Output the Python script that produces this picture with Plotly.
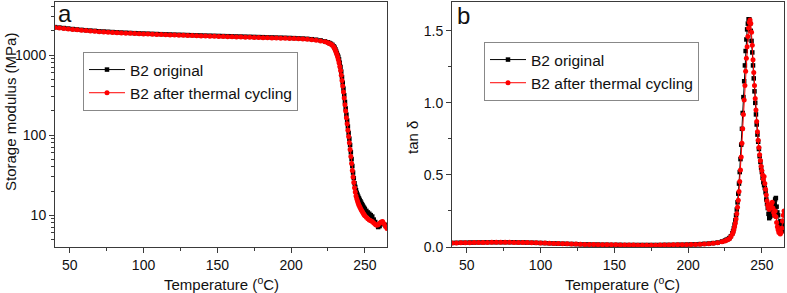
import plotly.graph_objects as go

# ---------------- data ----------------
T_flat = [40, 43, 46, 49, 52, 55, 58, 61, 64, 67,
          70, 73, 76, 79, 82, 85, 88, 91, 94, 97,
          100, 103, 106, 109, 112, 115, 118, 121, 124, 127,
          130, 133, 136, 139, 142, 145, 148, 151, 154, 157,
          160, 163, 166, 169, 172, 175, 178, 181, 184, 187,
          190, 193, 196, 199, 202, 205, 208, 211, 214, 217,
          220, 223]

T_a_tail = [225, 226, 227, 228,
            229, 229.5, 230, 230.5, 231, 231.5, 232, 232.5, 233, 233.5,
            234, 234.5, 235, 235.5, 236, 236.5, 237, 237.5, 238, 238.5,
            239, 239.5, 240, 240.5, 241, 241.5, 242, 242.5, 243, 243.5,
            244, 244.5, 245, 245.5, 246, 246.5, 247, 247.5, 248, 248.5,
            249, 249.5, 250,
            251, 252, 253, 254, 255, 256, 257, 258, 259, 260,
            261, 262, 263, 264, 265]

T_b_tail = [225, 226, 227, 228, 229, 230,
            230.5, 231, 231.5, 232, 232.5, 233, 233.5, 234, 234.5, 235,
            235.5, 236, 236.5, 237, 237.5, 238, 238.5, 239, 239.5, 240,
            240.5, 241, 241.5, 242, 242.5, 243, 243.5, 244, 244.5, 245,
            245.5, 246, 246.5, 247, 247.5, 248, 248.5, 249, 249.5, 250,
            250.5, 251, 251.5, 252, 252.5, 253, 253.5, 254, 254.5, 255,
            255.5, 256, 256.5, 257, 257.5, 258, 258.5, 259, 259.5, 260,
            260.5, 261, 261.5, 262, 262.5, 263, 263.5, 264, 264.5, 265]

# Storage modulus (MPa)
E_orig_flat = [2230, 2200, 2170, 2140, 2110, 2085, 2060, 2040, 2020, 2000,
               1980, 1965, 1950, 1935, 1920, 1908, 1896, 1885, 1874, 1864,
               1855, 1846, 1837, 1828, 1820, 1812, 1804, 1796, 1789, 1782,
               1775, 1768, 1761, 1754, 1748, 1742, 1736, 1730, 1724, 1718,
               1712, 1706, 1700, 1694, 1688, 1682, 1676, 1670, 1664, 1658,
               1652, 1646, 1640, 1633, 1625, 1616, 1605, 1592, 1575, 1552,
               1522, 1480]
E_orig_tail = [1440, 1410, 1380, 1340,
               1280, 1235, 1180, 1120, 1060, 1000, 950, 880, 800, 710,
               620, 530, 450, 380, 315, 260, 215, 180, 152, 128,
               106, 90, 75, 61, 50, 41, 34, 29, 25, 22.5,
               20.5, 19, 18, 17, 16.2, 15.5, 14.9, 14.3, 13.7, 13.2,
               12.7, 12.3, 11.9,
               11.3, 10.8, 10.4, 10.0, 9.6, 8.8, 8.2, 7.6, 7.1, 7.3,
               8.0, 7.9, 7.7, 7.5, 7.2]

E_cyc_flat = [2200, 2170, 2140, 2112, 2085, 2060, 2037, 2016, 1996, 1977,
              1958, 1942, 1927, 1912, 1898, 1886, 1874, 1863, 1852, 1842,
              1833, 1824, 1815, 1806, 1798, 1790, 1782, 1774, 1767, 1760,
              1753, 1746, 1739, 1732, 1726, 1720, 1714, 1708, 1702, 1696,
              1690, 1684, 1678, 1672, 1666, 1660, 1654, 1648, 1642, 1636,
              1630, 1624, 1618, 1611, 1603, 1594, 1583, 1570, 1553, 1530,
              1500, 1460]
E_cyc_tail = [1425, 1395, 1362, 1320,
              1260, 1210, 1150, 1090, 1020, 950, 880, 800, 720, 640,
              560, 480, 410, 345, 290, 240, 200, 165, 138, 115,
              96, 80, 66, 54, 44, 36, 30, 25.5, 22, 19.5,
              17.3, 16, 15, 14.1, 13.3, 12.7, 12.2, 11.7, 11.3, 10.9,
              10.5, 10.1, 9.8,
              9.4, 9.0, 8.7, 8.5, 8.3, 8.0, 7.7, 7.5, 7.6, 7.9,
              8.2, 8.3, 7.8, 7.2, 6.8]

# tan delta
tan_orig_flat = [0.028, 0.029, 0.030, 0.030, 0.031, 0.031, 0.032, 0.032, 0.033, 0.033,
                 0.033, 0.033, 0.033, 0.033, 0.033, 0.032, 0.032, 0.031, 0.030, 0.029,
                 0.028, 0.027, 0.026, 0.025, 0.024, 0.023, 0.022, 0.021, 0.020, 0.019,
                 0.018, 0.018, 0.017, 0.017, 0.016, 0.016, 0.015, 0.015, 0.015, 0.014,
                 0.014, 0.014, 0.014, 0.014, 0.014, 0.014, 0.014, 0.014, 0.015, 0.015,
                 0.015, 0.016, 0.016, 0.017, 0.018, 0.019, 0.020, 0.022, 0.024, 0.027,
                 0.031, 0.038]
tan_orig_tail = [0.045, 0.050, 0.055, 0.062, 0.075, 0.095,
                 0.11, 0.13, 0.155, 0.185, 0.22, 0.26, 0.31, 0.37, 0.44, 0.52,
                 0.61, 0.71, 0.82, 0.93, 1.04, 1.15, 1.26, 1.36, 1.44, 1.51,
                 1.55, 1.58, 1.58, 1.55, 1.50, 1.43, 1.35, 1.26, 1.17, 1.08,
                 1.00, 0.92, 0.85, 0.78, 0.73, 0.68, 0.63, 0.59, 0.55, 0.52,
                 0.48, 0.45, 0.43, 0.41, 0.38, 0.33, 0.30, 0.27, 0.23, 0.20,
                 0.21, 0.25, 0.24, 0.22, 0.25, 0.28, 0.30, 0.33, 0.34, 0.28,
                 0.24, 0.22, 0.16, 0.12, 0.15, 0.18, 0.14, 0.11, 0.13, 0.17]

tan_cyc_flat = [0.027, 0.028, 0.029, 0.030, 0.030, 0.031, 0.031, 0.032, 0.032, 0.033,
                0.033, 0.033, 0.033, 0.033, 0.032, 0.032, 0.031, 0.031, 0.030, 0.029,
                0.028, 0.027, 0.026, 0.025, 0.024, 0.023, 0.022, 0.021, 0.020, 0.019,
                0.018, 0.017, 0.017, 0.016, 0.016, 0.015, 0.015, 0.015, 0.014, 0.014,
                0.014, 0.014, 0.013, 0.013, 0.013, 0.013, 0.013, 0.014, 0.014, 0.014,
                0.015, 0.015, 0.016, 0.016, 0.017, 0.018, 0.019, 0.021, 0.023, 0.026,
                0.030, 0.036]
tan_cyc_tail = [0.042, 0.047, 0.052, 0.058, 0.072, 0.090,
                0.103, 0.12, 0.14, 0.165, 0.195, 0.23, 0.275, 0.325, 0.385, 0.455,
                0.535, 0.625, 0.72, 0.82, 0.92, 1.02, 1.12, 1.22, 1.31, 1.39,
                1.46, 1.52, 1.56, 1.575, 1.55, 1.49, 1.40, 1.30, 1.21, 1.12,
                1.03, 0.95, 0.87, 0.80, 0.74, 0.69, 0.64, 0.60, 0.56, 0.53,
                0.50, 0.47, 0.49, 0.44, 0.40, 0.36, 0.32, 0.29, 0.27, 0.26,
                0.28, 0.27, 0.30, 0.31, 0.27, 0.24, 0.22, 0.25, 0.21, 0.17,
                0.14, 0.12, 0.10, 0.11, 0.09, 0.10, 0.13, 0.18, 0.22, 0.25]

x_ticks = [50, 100, 150, 200, 250]
x_minor = [75, 125, 175, 225]
ya_ticks = [10, 100, 1000]
ya_minor = [5, 6, 7, 8, 9, 20, 30, 40, 50, 60, 70, 80, 90,
            200, 300, 400, 500, 600, 700, 800, 900, 2000, 3000, 4000]
yb_ticks = [0.0, 0.5, 1.0, 1.5]
yb_minor = [0.25, 0.75, 1.25]

names = ["B2 original", "B2 after thermal cycling"]

T_a = T_flat + T_a_tail
T_b = T_flat + T_b_tail
E_orig = E_orig_flat + E_orig_tail
E_cyc = E_cyc_flat + E_cyc_tail
tan_orig = tan_orig_flat + tan_orig_tail
tan_cyc = tan_cyc_flat + tan_cyc_tail

# ---------------- figure ----------------
W, H = 787, 293
FONT = "Liberation Sans, Arial, sans-serif"
AX = "#3a3a3a"

def px_x(p):
    return p / W

def px_y(p):
    return 1 - p / H

fig = go.Figure()

styles = [dict(color="black", symbol="square", size=4.5),
          dict(color="#ff0000", symbol="circle", size=5)]

for i, (ys, xs) in enumerate([(E_orig, T_a), (E_cyc, T_a)]):
    fig.add_trace(go.Scatter(
        x=xs, y=ys, mode="lines+markers", name=names[i],
        line=dict(color=styles[i]["color"], width=1),
        marker=dict(color=styles[i]["color"], symbol=styles[i]["symbol"], size=styles[i]["size"]),
        xaxis="x", yaxis="y", legend="legend", cliponaxis=True))

for i, (ys, xs) in enumerate([(tan_orig, T_b), (tan_cyc, T_b)]):
    fig.add_trace(go.Scatter(
        x=xs, y=ys, mode="lines+markers", name=names[i],
        line=dict(color=styles[i]["color"], width=1),
        marker=dict(color=styles[i]["color"], symbol=styles[i]["symbol"], size=styles[i]["size"]),
        xaxis="x2", yaxis="y2", legend="legend2", cliponaxis=True))

ydom = [px_y(247), px_y(2)]

common_axis = dict(showline=True, mirror=True, linecolor=AX, linewidth=1,
                   ticks="outside", ticklen=5, tickcolor=AX, tickwidth=1,
                   showgrid=False, zeroline=False, automargin=False,
                   tickfont=dict(family=FONT, size=14, color="#111"))

fig.update_layout(
    width=W, height=H, autosize=False,
    margin=dict(l=0, r=0, t=0, b=0, pad=0),
    paper_bgcolor="white", plot_bgcolor="white",
    font=dict(family=FONT, color="#111"),
    xaxis=dict(domain=[px_x(55), px_x(387)], range=[40, 265], anchor="y",
               tickvals=x_ticks,
               minor=dict(tickvals=x_minor, ticks="outside", ticklen=3, tickcolor=AX),
               **common_axis),
    yaxis=dict(domain=ydom, type="log", range=[0.602, 3.662], anchor="x",
               tickvals=ya_ticks,
               minor=dict(tickvals=ya_minor, ticks="outside", ticklen=3, tickcolor=AX),
               **common_axis),
    xaxis2=dict(domain=[px_x(452), px_x(784)], range=[40, 265], anchor="y2",
                tickvals=x_ticks,
                minor=dict(tickvals=x_minor, ticks="outside", ticklen=3, tickcolor=AX),
                **common_axis),
    yaxis2=dict(domain=ydom, range=[0, 1.70], anchor="x2",
                tickvals=yb_ticks, tickformat=".1f",
                minor=dict(tickvals=yb_minor, ticks="outside", ticklen=3, tickcolor=AX),
                **common_axis),
    legend=dict(x=px_x(83), y=px_y(52), xanchor="left", yanchor="top",
                bgcolor="white", bordercolor="#888", borderwidth=1,
                font=dict(family=FONT, size=15.5, color="#111"),
                itemwidth=36, tracegroupgap=0),
    legend2=dict(x=px_x(484), y=px_y(42), xanchor="left", yanchor="top",
                 bgcolor="white", bordercolor="#888", borderwidth=1,
                 font=dict(family=FONT, size=15.5, color="#111"),
                 itemwidth=36, tracegroupgap=0),
)

annotations = [
    dict(text="a", x=px_x(56), y=px_y(-2), xanchor="left", yanchor="top",
         font=dict(family=FONT, size=24, color="#111")),
    dict(text="b", x=px_x(455), y=px_y(0), xanchor="left", yanchor="top",
         font=dict(family=FONT, size=24, color="#111")),
    dict(text="Storage modulus (MPa)", x=px_x(10), y=px_y(112), textangle=-90,
         xanchor="center", yanchor="middle", font=dict(family=FONT, size=15, color="#111")),
    dict(text="tan δ", x=px_x(412), y=px_y(138), textangle=-90,
         xanchor="center", yanchor="middle", font=dict(family=FONT, size=15, color="#111")),
    dict(text="Temperature (<sup>o</sup>C)", x=px_x(221), y=px_y(283),
         xanchor="center", yanchor="middle", font=dict(family=FONT, size=15, color="#111")),
    dict(text="Temperature (<sup>o</sup>C)", x=px_x(622), y=px_y(283),
         xanchor="center", yanchor="middle", font=dict(family=FONT, size=15, color="#111")),
]
for a in annotations:
    a.update(xref="paper", yref="paper", showarrow=False)
fig.update_layout(annotations=annotations)

fig.write_html(
    "out.html",
    config={"displayModeBar": False, "staticPlot": True},
    post_script="document.body.style.margin='0';document.body.style.overflow='hidden';",
)
